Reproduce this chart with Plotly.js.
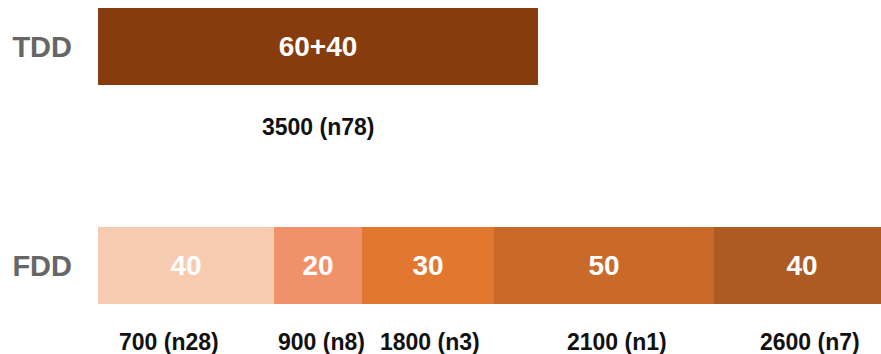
<!DOCTYPE html>
<html>
<head>
<meta charset="utf-8">
<script src="https://cdn.plot.ly/plotly-3.0.1.min.js"></script>
<style>
  html, body { margin: 0; padding: 0; background: #fff; }
  #chart { width: 881px; height: 354px; }
</style>
</head>
<body>
<div id="chart"></div>
<script>
// Duplex modes, bottom to top
const categories = ['FDD', 'TDD'];

// TDD: one block made of two channel widths
const tddParts = [60, 40];
const tddBand = '3500 (n78)';
const tddColor = '#873C0E';

// FDD: channel width per band
const fddValues = [40, 20, 30, 50, 40];
const fddBands = ['700 (n28)', '900 (n8)', '1800 (n3)', '2100 (n1)', '2600 (n7)'];
const fddColors = ['#F7CBAF', '#F0916A', '#E27830', '#C96A2A', '#AE5A23'];

const labelFont = { family: 'Liberation Sans, Arial, sans-serif', size: 23, color: '#111', weight: 'bold' };
const insideFont = { family: 'Liberation Sans, Arial, sans-serif', size: 28, color: '#ffffff', weight: 'bold' };

const traces = [];
const tddTotal = tddParts.reduce((a, b) => a + b, 0);
traces.push({
  type: 'bar', orientation: 'h',
  y: ['TDD'], x: [tddTotal],
  text: [tddParts.join('+')],
  textposition: 'inside', insidetextanchor: 'middle',
  textfont: insideFont,
  marker: { color: tddColor, line: { width: 0 } },
  hoverinfo: 'skip'
});
fddValues.forEach((v, i) => {
  traces.push({
    type: 'bar', orientation: 'h',
    y: ['FDD'], x: [v],
    text: [String(v)],
    textposition: 'inside', insidetextanchor: 'middle',
    textfont: insideFont,
    marker: { color: fddColors[i], line: { width: 0 } },
    hoverinfo: 'skip'
  });
});

// Band labels under each block, centred on the block
const nudges = [-17, 3, 2, 13, 8];
const annotations = [];
annotations.push({
  xref: 'x', yref: 'y', x: tddTotal / 2, y: 'TDD', yshift: -81,
  text: tddBand, showarrow: false, font: labelFont
});
let start = 0;
fddValues.forEach((v, i) => {
  annotations.push({
    xref: 'x', yref: 'y', x: start + v / 2, y: 'FDD', yshift: -76, xshift: nudges[i],
    text: fddBands[i], showarrow: false, font: labelFont
  });
  start += v;
});

const layout = {
  width: 881, height: 354,
  margin: { l: 98, r: 0, t: 0, b: 0, pad: 0 },
  paper_bgcolor: '#ffffff', plot_bgcolor: '#ffffff',
  barmode: 'stack', bargap: 0.648,
  showlegend: false,
  xaxis: { range: [0, 177.95], visible: false, fixedrange: true },
  yaxis: {
    type: 'category', categoryorder: 'array', categoryarray: categories,
    range: [-0.404, 1.212],
    showgrid: false, zeroline: false, showline: false, ticks: '',
    ticklabelstandoff: 25,
    tickfont: { family: 'Liberation Sans, Arial, sans-serif', size: 29, color: '#666666', weight: 'bold' },
    fixedrange: true
  },
  annotations: annotations
};

Plotly.newPlot('chart', traces, layout, { displayModeBar: false, staticPlot: true });
</script>
</body>
</html>
